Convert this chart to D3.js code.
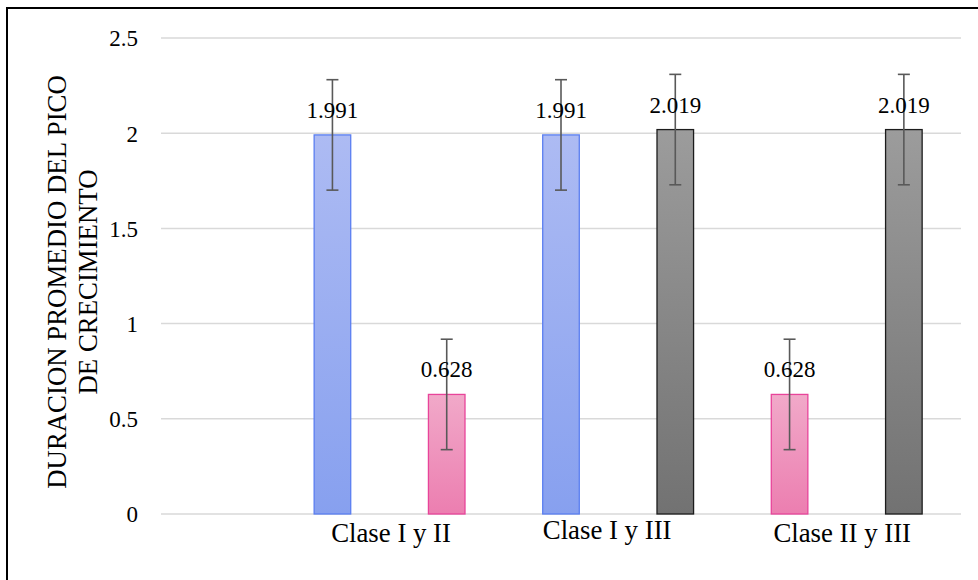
<!DOCTYPE html>
<html>
<head>
<meta charset="utf-8">
<script src="https://cdn.jsdelivr.net/npm/d3@7"></script>
<style>
  html, body { margin: 0; padding: 0; background: #fff; }
  svg { display: block; }
</style>
</head>
<body>
<svg id="chart" width="978" height="580"></svg>
<script>
// ---- data ----
const slots = ["vacío", "I y II: Clase I", "I y II: Clase II", "I y III: Clase I", "I y III: Clase III", "II y III: Clase II", "II y III: Clase III"];
const categories = ["Clase I y II", "Clase I y III", "Clase II y III"];
const categorySlots = [[1, 2], [3, 4], [5, 6]];
const claseISlots = [1, 3];
const claseIValues = [1.991, 1.991];
const claseIISlots = [2, 5];
const claseIIValues = [0.628, 0.628];
const claseIIISlots = [4, 6];
const claseIIIValues = [2.019, 2.019];
const errorValue = 0.29;
const yTicks = [0, 0.5, 1, 1.5, 2, 2.5];
const yTickLabels = ["0", "0.5", "1", "1.5", "2", "2.5"];
const yTitleLines = ["DURACION PROMEDIO DEL PICO", "DE CRECIMIENTO"];

// ---- layout ----
const FONT = "'Liberation Serif', 'Times New Roman', 'DejaVu Serif', serif";
const svg = d3.select("#chart").style("font-family", FONT);
const plot = { left: 161, right: 961, top: 38, bottom: 514 };

const x = d3.scaleBand().domain(slots).range([plot.left, plot.right]).paddingInner(0.68).paddingOuter(0.34);
const y = d3.scaleLinear().domain([0, 2.5]).range([plot.bottom, plot.top]);

// outer border (clipped on right/bottom in reference)
svg.append("path").attr("d", "M7,590 L7,8 L990,8")
  .attr("fill", "none").attr("stroke", "#000").attr("stroke-width", 2);

// gradients
const defs = svg.append("defs");
function grad(id, top, bottom) {
  const g = defs.append("linearGradient").attr("id", id).attr("x1", 0).attr("y1", 0).attr("x2", 0).attr("y2", 1);
  g.append("stop").attr("offset", "0%").attr("stop-color", top);
  g.append("stop").attr("offset", "100%").attr("stop-color", bottom);
}
grad("gBlue", "#adbbf3", "#87a0ef");
grad("gPink", "#f1a9c9", "#ec7eb0");
grad("gGray", "#9c9c9c", "#727272");

// gridlines
svg.append("g").selectAll("line").data(yTicks).join("line")
  .attr("x1", plot.left).attr("x2", plot.right)
  .attr("y1", d => y(d)).attr("y2", d => y(d))
  .attr("stroke", "#d9d9d9").attr("stroke-width", 1.5);

// y axis tick labels
const yAxis = d3.axisLeft(y).tickValues(yTicks).tickFormat((d, i) => yTickLabels[i]).tickSize(0).tickPadding(0);
const gy = svg.append("g").attr("transform", `translate(138,0)`).call(yAxis);
gy.attr("font-family", null).attr("font-size", null);
gy.select(".domain").remove();
gy.selectAll("text").style("font-family", FONT).style("font-size", "23px").attr("fill", "#000").attr("dy", "0.34em");

// y title
const yt = svg.append("text").attr("transform", "translate(0,282) rotate(-90)")
  .attr("text-anchor", "middle").style("font-family", FONT).style("font-size", "26.8px").attr("fill", "#000");
yTitleLines.forEach((t, i) => {
  yt.append("tspan").attr("x", 0).attr("y", 66 + i * 31).text(t);
});

// series
const series = [
  { slots: claseISlots, values: claseIValues, fill: "url(#gBlue)", stroke: "#5a7ef0" },
  { slots: claseIISlots, values: claseIIValues, fill: "url(#gPink)", stroke: "#e8449a" },
  { slots: claseIIISlots, values: claseIIIValues, fill: "url(#gGray)", stroke: "#1c1c1c" }
];

const bars = svg.append("g");
const errs = svg.append("g");
const labels = svg.append("g");
series.forEach(s => {
  const data = s.slots.map((si, i) => ({ slot: slots[si], v: s.values[i] }));
  bars.selectAll(null).data(data).join("rect")
    .attr("x", d => x(d.slot)).attr("width", x.bandwidth())
    .attr("y", d => y(d.v)).attr("height", d => y(0) - y(d.v))
    .attr("fill", s.fill).attr("stroke", s.stroke).attr("stroke-width", 1.3);
  labels.selectAll(null).data(data).join("text")
    .attr("x", d => x(d.slot) + x.bandwidth() / 2)
    .attr("y", d => y(d.v) - 17)
    .attr("text-anchor", "middle").style("font-family", FONT).style("font-size", "23px").attr("fill", "#000")
    .text(d => d.v.toFixed(3));
  data.forEach(d => {
    const cx = x(d.slot) + x.bandwidth() / 2;
    const g = errs.append("g").attr("stroke", "#595959").attr("stroke-width", 1.6);
    g.append("line").attr("x1", cx).attr("x2", cx).attr("y1", y(d.v + errorValue)).attr("y2", y(d.v - errorValue));
    g.append("line").attr("x1", cx - 6).attr("x2", cx + 6).attr("y1", y(d.v + errorValue)).attr("y2", y(d.v + errorValue));
    g.append("line").attr("x1", cx - 6).attr("x2", cx + 6).attr("y1", y(d.v - errorValue)).attr("y2", y(d.v - errorValue));
  });
});

// category labels
const labelOffsets = [1.5, -11, -4.5];
const labelBaselines = [542, 539, 541.5];
svg.append("g").selectAll("text").data(categories).join("text")
  .attr("x", (d, i) => {
    const [a, b] = categorySlots[i];
    return (x(slots[a]) + x(slots[b]) + x.bandwidth()) / 2 + labelOffsets[i];
  })
  .attr("y", (d, i) => labelBaselines[i])
  .attr("text-anchor", "middle").style("font-family", FONT).style("font-size", "26.8px").attr("fill", "#000")
  .text(d => d);
</script>
</body>
</html>
